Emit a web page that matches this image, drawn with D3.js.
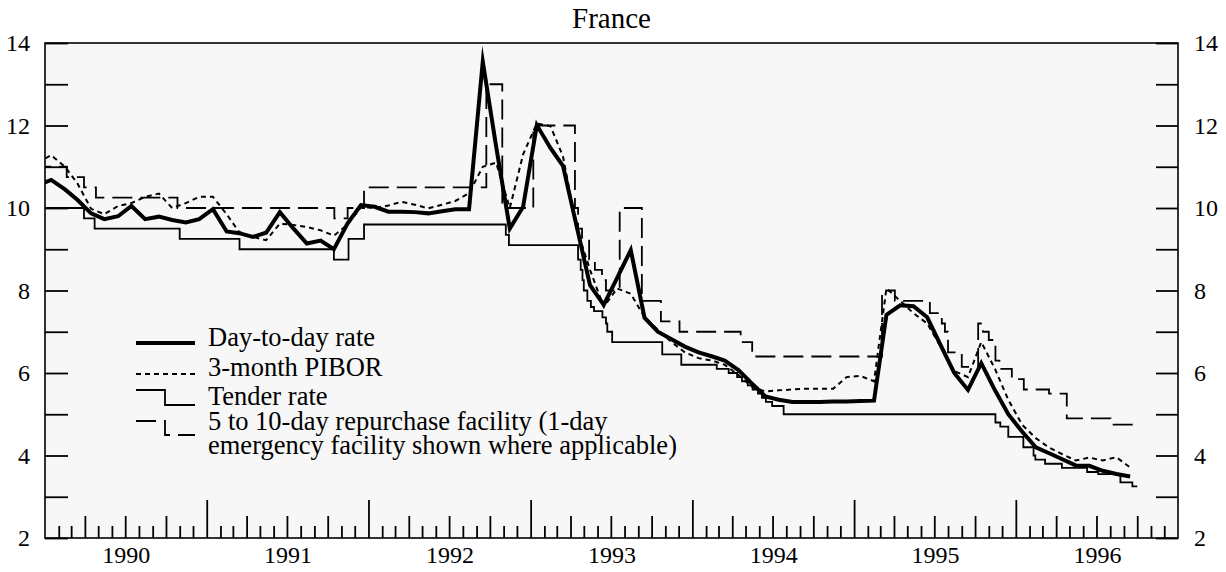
<!DOCTYPE html>
<html>
<head>
<meta charset="utf-8">
<script src="https://cdn.jsdelivr.net/npm/d3@7"></script>
<style>
  body { margin: 0; background: #fff; }
</style>
</head>
<body>
<div id="main"></div>
<script>
// monthly series, first value is Dec 1989 (mid-month)
var firstMonth = new Date(1989, 11, 15);

var dayToDay = [10.55, 10.68, 10.45, 10.2, 9.87, 9.73, 9.8, 10.05, 9.73, 9.79, 9.71, 9.65, 9.73,
  9.97, 9.43, 9.39, 9.3, 9.4, 9.9, 9.51, 9.14, 9.21, 9.0, 9.63, 10.07,
  10.03, 9.91, 9.91, 9.9, 9.87, 9.92, 9.97, 9.97, 13.55, 11.5, 9.5, 10.03,
  12.01, 11.45, 11.02, 9.55, 8.13, 7.65, 8.3, 8.98, 7.34, 7.0, 6.82, 6.64,
  6.5, 6.4, 6.3, 6.07, 5.75, 5.43, 5.35, 5.3, 5.3, 5.3, 5.31, 5.31,
  5.32, 5.33, 7.41, 7.64, 7.62, 7.35, 6.68, 6.0, 5.59, 6.24, 5.58, 5.0,
  4.58, 4.2, 4.06, 3.91, 3.76, 3.75, 3.63, 3.55, 3.49];

var pibor = [11.1, 11.28, 11.0, 10.6, 9.98, 9.85, 10.05, 10.12, 10.27, 10.35, 10.0, 10.12, 10.27,
  10.27, 9.85, 9.42, 9.3, 9.22, 9.62, 9.59, 9.54, 9.46, 9.33, 9.6, 10.02,
  10.0, 10.06, 10.15, 10.08, 9.99, 10.08, 10.17, 10.36, 11.0, 11.1, 10.0, 11.3,
  12.05, 11.98, 11.25, 9.5, 8.5, 7.6, 8.05, 7.92, 7.35, 7.05, 6.75, 6.5,
  6.36, 6.3, 6.2, 5.95, 5.67, 5.55, 5.58, 5.6, 5.62, 5.62, 5.62, 5.9,
  5.93, 5.8, 8.05, 7.75, 7.45, 7.2, 6.65, 6.05, 5.9, 6.75, 6.1, 5.35,
  4.75, 4.42, 4.2, 4.03, 3.88, 3.95, 3.88, 3.96, 3.71];

// step series: [date the rate takes effect, rate]
var tenderRate = [
  ["1989-12-01", 10.0], ["1990-03-30", 9.75], ["1990-04-23", 9.5], ["1990-11-01", 9.25],
  ["1991-03-16", 9.0], ["1991-10-15", 8.75], ["1991-11-17", 9.25], ["1991-12-22", 9.6],
  ["1992-11-06", 9.35], ["1992-11-13", 9.1], ["1993-04-18", 8.75], ["1993-04-24", 8.5],
  ["1993-04-28", 8.25], ["1993-05-01", 8.0], ["1993-05-09", 7.75], ["1993-05-17", 7.6],
  ["1993-05-24", 7.5], ["1993-06-12", 7.35], ["1993-06-20", 7.2], ["1993-06-23", 7.0],
  ["1993-07-04", 6.75], ["1993-10-25", 6.45], ["1993-12-07", 6.2], ["1994-02-25", 6.1],
  ["1994-03-24", 6.0], ["1994-04-12", 5.9], ["1994-04-23", 5.8], ["1994-05-06", 5.7],
  ["1994-05-17", 5.6], ["1994-05-29", 5.5], ["1994-06-07", 5.4], ["1994-06-16", 5.3],
  ["1994-06-30", 5.2], ["1994-07-26", 5.0], ["1995-11-16", 4.8], ["1995-11-27", 4.7],
  ["1995-12-15", 4.45], ["1996-01-18", 4.2], ["1996-02-10", 4.0], ["1996-02-14", 3.9],
  ["1996-03-07", 3.8], ["1996-04-14", 3.7], ["1996-06-10", 3.6], ["1996-07-05", 3.55],
  ["1996-08-24", 3.35], ["1996-09-20", 3.25], ["1996-10-01", 3.25]];

var repoRate = [
  ["1989-12-01", 11.0], ["1990-02-19", 10.75], ["1990-03-30", 10.5], ["1990-04-26", 10.25],
  ["1990-10-27", 10.0], ["1991-10-16", 9.75], ["1991-11-15", 10.0], ["1991-12-22", 10.5],
  ["1992-09-23", 13.0], ["1992-10-29", 10.0], ["1993-01-07", 12.0], ["1993-04-11", 10.0],
  ["1993-04-18", 9.5], ["1993-04-27", 9.25], ["1993-05-13", 8.75], ["1993-05-26", 8.5],
  ["1993-06-11", 8.25], ["1993-06-20", 8.0], ["1993-07-21", 10.0], ["1993-09-09", 7.75],
  ["1993-10-22", 7.25], ["1993-12-03", 7.0], ["1994-04-20", 6.75], ["1994-05-16", 6.4],
  ["1995-03-05", 8.0], ["1995-04-03", 7.75], ["1995-06-21", 7.45], ["1995-07-18", 7.2],
  ["1995-07-25", 7.0], ["1995-08-01", 6.5], ["1995-09-01", 6.15], ["1995-10-08", 7.2],
  ["1995-10-19", 7.0], ["1995-11-01", 6.8], ["1995-11-16", 6.3], ["1995-11-25", 6.1],
  ["1995-12-23", 5.85], ["1996-01-19", 5.6], ["1996-03-16", 5.5], ["1996-04-25", 4.9],
  ["1996-08-02", 4.75], ["1996-10-01", 4.75]];

var years = [1990, 1991, 1992, 1993, 1994, 1995, 1996];
var yTicks = [2, 3, 4, 5, 6, 7, 8, 9, 10, 11, 12, 13, 14];
var yLabels = [2, 4, 6, 8, 10, 12, 14];

var legendItems = [
  {key: "dtd", text: ["Day-to-day rate"]},
  {key: "pibor", text: ["3-month PIBOR"]},
  {key: "tender", text: ["Tender rate"]},
  {key: "repo", text: ["5 to 10-day repurchase facility (1-day", "emergency facility shown where applicable)"]}
];

var serif = "'Liberation Serif', 'Times New Roman', serif";

// layout
var W = 1226, H = 572;
var margin = {top: 43, right: 48, bottom: 34, left: 45},
    width = W - margin.left - margin.right,
    height = H - margin.top - margin.bottom;

var parse = d3.timeParse("%Y-%m-%d");
var monthly = function(arr) {
  return arr.map(function(v, i) {
    return {date: d3.timeMonth.offset(firstMonth, i), value: v};
  });
};
var steps = function(arr) {
  return arr.map(function(d) { return {date: parse(d[0]), value: d[1]}; });
};

var x = d3.scaleTime()
    .domain([new Date(1990, 0, 1), new Date(1997, 0, 1)])
    .range([0, width]);
var y = d3.scaleLinear()
    .domain([2, 14])
    .range([height, 0]);

var svg = d3.select("#main").append("svg")
    .attr("width", W)
    .attr("height", H);

var g = svg.append("g")
    .attr("transform", "translate(" + margin.left + "," + margin.top + ")");

// plot background
g.append("rect")
    .attr("width", width)
    .attr("height", height)
    .attr("fill", "#f7f7f7");

g.append("clipPath").attr("id", "plotclip")
  .append("rect").attr("width", width).attr("height", height);

// title
svg.append("text")
    .attr("x", margin.left + width / 2)
    .attr("y", 28)
    .attr("text-anchor", "middle")
    .style("font-family", serif)
    .style("font-size", "29px")
    .text("France");

// y axes, ticks pointing inward
var yFormat = function(d) { return yLabels.indexOf(d) >= 0 ? d : ""; };
g.append("g")
    .call(d3.axisLeft(y).tickValues(yTicks).tickSizeInner(-23).tickSizeOuter(0).tickPadding(15)
      .tickFormat(yFormat));
g.append("g")
    .attr("transform", "translate(" + width + ",0)")
    .call(d3.axisRight(y).tickValues(yTicks).tickSizeInner(-22).tickSizeOuter(0).tickPadding(16)
      .tickFormat(yFormat));

// x axis: months small, quarters medium, years tall
var months = d3.timeMonth.range(x.domain()[0], x.domain()[1]);
var smallTicks = months.filter(function(d) { return d.getMonth() % 3 !== 0; });
var midTicks = months.filter(function(d) { return d.getMonth() % 3 === 0 && d.getMonth() !== 0; });
var yearTicks = months.filter(function(d, i) { return d.getMonth() === 0 && i > 0; });

[[smallTicks, 12], [midTicks, 22], [yearTicks, 38]].forEach(function(t) {
  g.append("g")
      .attr("transform", "translate(0," + height + ")")
      .call(d3.axisBottom(x).tickValues(t[0]).tickSizeInner(-t[1]).tickSizeOuter(0).tickFormat(""));
});

var midYears = years.map(function(yr) {
  return new Date((new Date(yr, 0, 1).getTime() + new Date(yr + 1, 0, 1).getTime()) / 2);
});
g.append("g")
    .attr("transform", "translate(0," + height + ")")
    .call(d3.axisBottom(x).tickValues(midYears).tickSize(0).tickPadding(8)
      .tickFormat(d3.timeFormat("%Y")));

g.selectAll(".domain").remove();
g.selectAll(".tick line").attr("stroke", "#000").attr("stroke-width", 1.8);
g.selectAll(".tick text")
    .attr("fill", "#000")
    .style("font-family", serif)
    .style("font-size", "24px");

// frame
g.append("rect")
    .attr("width", width)
    .attr("height", height)
    .attr("fill", "none")
    .attr("stroke", "#000")
    .attr("stroke-width", 1.6);

// lines
var line = d3.line()
    .x(function(d) { return x(d.date); })
    .y(function(d) { return y(d.value); });
var stepLine = d3.line()
    .curve(d3.curveStepAfter)
    .x(function(d) { return x(d.date); })
    .y(function(d) { return y(d.value); });

var lines = g.append("g").attr("clip-path", "url(#plotclip)");

var styles = {
  tender: {width: 1.8, dash: null},
  repo: {width: 1.8, dash: "20,8"},
  pibor: {width: 2, dash: "5,4"},
  dtd: {width: 4, dash: null}
};

lines.append("path")
    .datum(steps(tenderRate))
    .attr("d", stepLine)
    .attr("fill", "none").attr("stroke", "#000")
    .attr("stroke-width", styles.tender.width);

lines.append("path")
    .datum(steps(repoRate))
    .attr("d", stepLine)
    .attr("fill", "none").attr("stroke", "#000")
    .attr("stroke-width", styles.repo.width)
    .attr("stroke-dasharray", styles.repo.dash);

lines.append("path")
    .datum(monthly(pibor))
    .attr("d", line)
    .attr("fill", "none").attr("stroke", "#000")
    .attr("stroke-width", styles.pibor.width)
    .attr("stroke-dasharray", styles.pibor.dash);

lines.append("path")
    .datum(monthly(dayToDay))
    .attr("d", line)
    .attr("fill", "none").attr("stroke", "#000")
    .attr("stroke-width", styles.dtd.width)
    .attr("stroke-miterlimit", 10);

// legend
var lg = svg.append("g").attr("transform", "translate(136,0)");
var rowY = [343, 374, 398, 428];
var textBase = [346, 376, 405, 430];

legendItems.forEach(function(item, i) {
  var s = styles[item.key];
  var sym;
  if (item.key === "tender") {
    sym = "M0," + (rowY[i] - 8) + "H29V" + (rowY[i] + 7) + "H59";
  } else if (item.key === "repo") {
    sym = "M0," + (rowY[i] - 7) + "H29V" + (rowY[i] + 7) + "H59";
  } else {
    sym = "M0," + rowY[i] + "H59";
  }
  lg.append("path")
      .attr("d", sym)
      .attr("fill", "none")
      .attr("stroke", "#000")
      .attr("stroke-width", s.width)
      .attr("stroke-dasharray", s.dash);
  var txt = lg.append("text")
      .attr("y", textBase[i])
      .style("font-family", serif)
      .style("font-size", "26.5px");
  item.text.forEach(function(t, j) {
    txt.append("tspan")
        .attr("x", 72)
        .attr("dy", j === 0 ? 0 : 23.5)
        .text(t);
  });
});
</script>
</body>
</html>
